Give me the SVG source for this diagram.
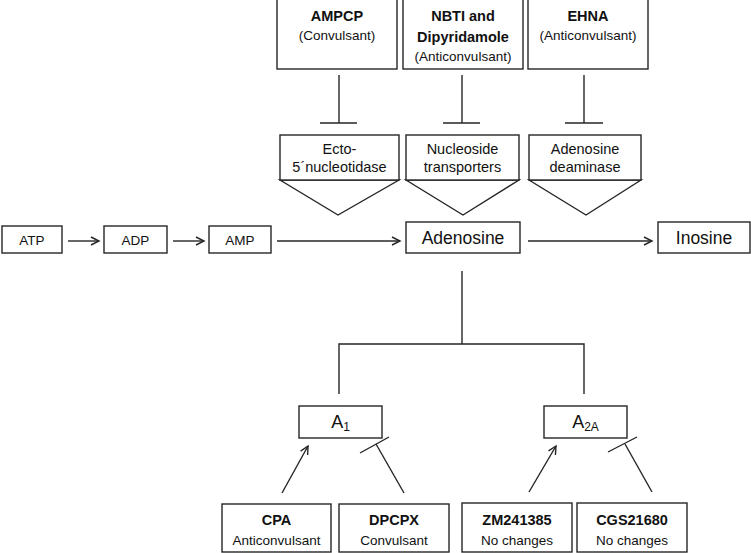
<svg xmlns="http://www.w3.org/2000/svg" width="751" height="553" viewBox="0 0 751 553">
<style>
.box{fill:#fff;stroke:#262626;stroke-width:1.4}
.ln{fill:none;stroke:#262626;stroke-width:1.4}
text{font-family:"Liberation Sans",Arial,sans-serif;fill:#111;text-anchor:middle}
.h{font-size:14.5px;font-weight:bold}
.s{font-size:13.5px}
.e{font-size:14.5px}
.m{font-size:13.5px}
.b{font-size:17.5px}
.r{font-size:18px}
</style>
<defs>
<marker id="arr" markerWidth="12" markerHeight="12" refX="10" refY="5" orient="auto" markerUnits="userSpaceOnUse">
<polyline points="2,1 10,5 2,9" fill="none" stroke="#262626" stroke-width="1.4"/>
</marker>
</defs>
<rect width="751" height="553" fill="#fff"/>

<g id="connectors">
<line class="ln" x1="339" y1="75" x2="339" y2="123"/>
<line class="ln" x1="320" y1="123" x2="357" y2="123"/>
<line class="ln" x1="462" y1="75" x2="462" y2="123"/>
<line class="ln" x1="443" y1="123" x2="480" y2="123"/>
<line class="ln" x1="584" y1="75" x2="584" y2="123"/>
<line class="ln" x1="565" y1="123" x2="603" y2="123"/>
<line class="ln" x1="68" y1="241" x2="99" y2="241" marker-end="url(#arr)"/>
<line class="ln" x1="173" y1="241" x2="204" y2="241" marker-end="url(#arr)"/>
<line class="ln" x1="277" y1="241" x2="400" y2="241" marker-end="url(#arr)"/>
<line class="ln" x1="528" y1="241" x2="652" y2="241" marker-end="url(#arr)"/>
<polyline class="ln" points="462,271 462,344"/>
<polyline class="ln" points="339,394 339,344 584,344 584,394"/>
<line class="ln" x1="282" y1="493" x2="308" y2="446" marker-end="url(#arr)"/>
<line class="ln" x1="404" y1="493" x2="376" y2="444"/>
<line class="ln" x1="360" y1="453" x2="389" y2="437"/>
<line class="ln" x1="529" y1="492" x2="556" y2="446" marker-end="url(#arr)"/>
<line class="ln" x1="652" y1="492" x2="625" y2="444"/>
<line class="ln" x1="608" y1="452" x2="637" y2="437"/>
</g>

<g id="ampcp">
<rect class="box" x="277" y="-1" width="120" height="70"/>
<text class="h" x="337" y="21">AMPCP</text>
<text class="s" x="337" y="40">(Convulsant)</text>
</g>
<g id="nbti">
<rect class="box" x="403" y="-1" width="120" height="70"/>
<text class="h" x="463" y="21">NBTI and</text>
<text class="h" x="463" y="42">Dipyridamole</text>
<text class="s" x="463" y="61">(Anticonvulsant)</text>
</g>
<g id="ehna">
<rect class="box" x="528" y="-1" width="120" height="70"/>
<text class="h" x="588" y="21">EHNA</text>
<text class="s" x="588" y="40">(Anticonvulsant)</text>
</g>

<g id="ecto">
<path class="box" d="M280,180 L399,180 L338,215 Z"/>
<rect class="box" x="280" y="135" width="119" height="45"/>
<text class="e" x="339.5" y="154">Ecto-</text>
<text class="e" x="339.5" y="172">5´nucleotidase</text>
</g>
<g id="transporters">
<path class="box" d="M406,180 L519,180 L463,215 Z"/>
<rect class="box" x="406" y="135" width="113" height="45"/>
<text class="e" x="462.5" y="154">Nucleoside</text>
<text class="e" x="462.5" y="172">transporters</text>
</g>
<g id="deaminase">
<path class="box" d="M529,180 L641,180 L586,215 Z"/>
<rect class="box" x="529" y="135" width="112" height="45"/>
<text class="e" x="585" y="154">Adenosine</text>
<text class="e" x="585" y="172">deaminase</text>
</g>

<g id="atp">
<rect class="box" x="2" y="226" width="60" height="27"/>
<text class="m" x="32" y="244.5">ATP</text>
</g>
<g id="adp">
<rect class="box" x="104" y="226" width="63" height="27"/>
<text class="m" x="135.5" y="244.5">ADP</text>
</g>
<g id="amp">
<rect class="box" x="209" y="226" width="62" height="27"/>
<text class="m" x="240" y="244.5">AMP</text>
</g>
<g id="adenosine">
<rect class="box" x="406" y="222" width="114" height="31"/>
<text class="b" x="463" y="244">Adenosine</text>
</g>
<g id="inosine">
<rect class="box" x="658" y="222" width="92" height="31"/>
<text class="b" x="704" y="244">Inosine</text>
</g>

<g id="a1">
<rect class="box" x="299" y="406" width="83" height="32"/>
<text class="r" x="340.5" y="428">A<tspan font-size="12px" dy="3">1</tspan></text>
</g>
<g id="a2a">
<rect class="box" x="544" y="406" width="83" height="32"/>
<text class="r" x="585.5" y="428">A<tspan font-size="12px" dy="3">2A</tspan></text>
</g>

<g id="cpa">
<rect class="box" x="222" y="504" width="109" height="48"/>
<text class="h" x="276.5" y="525">CPA</text>
<text class="s" x="276.5" y="545">Anticonvulsant</text>
</g>
<g id="dpcpx">
<rect class="box" x="339" y="504" width="110" height="48"/>
<text class="h" x="394" y="525">DPCPX</text>
<text class="s" x="394" y="545">Convulsant</text>
</g>
<g id="zm">
<rect class="box" x="462" y="503" width="110" height="49"/>
<text class="h" x="517" y="525">ZM241385</text>
<text class="s" x="517" y="545">No changes</text>
</g>
<g id="cgs">
<rect class="box" x="577" y="503" width="110" height="49"/>
<text class="h" x="632" y="525">CGS21680</text>
<text class="s" x="632" y="545">No changes</text>
</g>
</svg>
